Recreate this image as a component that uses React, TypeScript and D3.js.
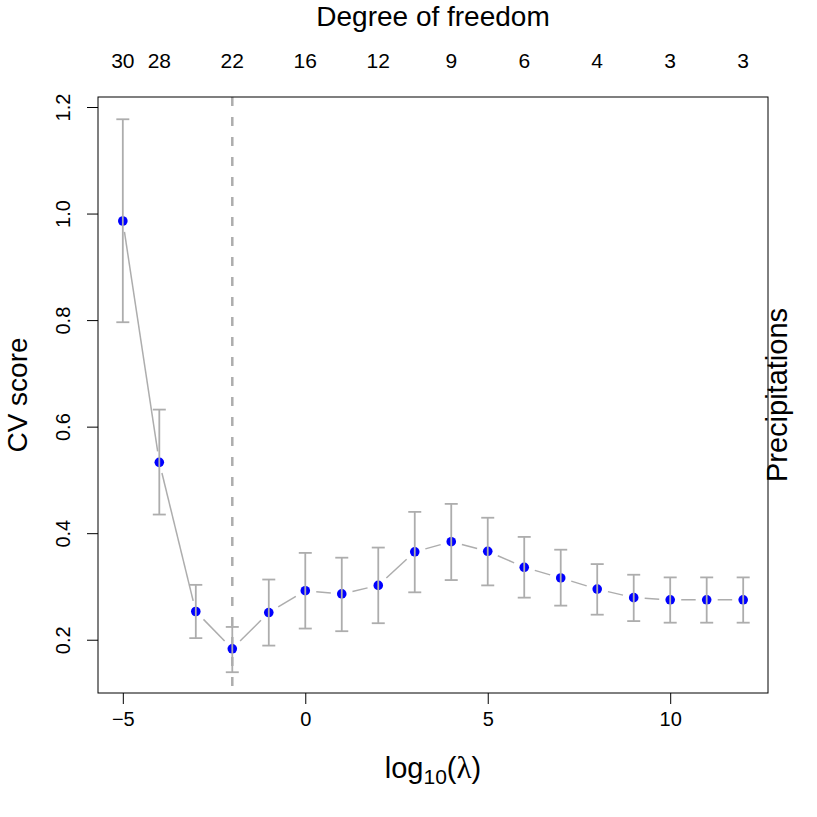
import React, { useRef, useEffect } from 'react';
import * as d3 from 'd3';

// log10(lambda) grid
const logLambda = [-5, -4, -3, -2, -1, 0, 1, 2, 3, 4, 5, 6, 7, 8, 9, 10, 11, 12];
const cvScore = [0.986, 0.533, 0.253, 0.183, 0.251, 0.292, 0.286, 0.302, 0.365, 0.384, 0.366, 0.336, 0.316, 0.295, 0.279, 0.275, 0.275, 0.275];
const cvUpper = [1.177, 0.632, 0.303, 0.224, 0.313, 0.363, 0.354, 0.373, 0.44, 0.455, 0.429, 0.393, 0.369, 0.342, 0.322, 0.317, 0.317, 0.317];
const cvLower = [0.796, 0.435, 0.203, 0.139, 0.189, 0.221, 0.216, 0.231, 0.289, 0.312, 0.302, 0.279, 0.264, 0.247, 0.235, 0.232, 0.232, 0.232];

// top axis: degrees of freedom
const dfPositions = [-5, -4, -2, 0, 2, 4, 6, 8, 10, 12];
const dfLabels = ['30', '28', '22', '16', '12', '9', '6', '4', '3', '3'];

const xTicks = [-5, 0, 5, 10];
const yTicks = [0.2, 0.4, 0.6, 0.8, 1.0, 1.2];
const bestLogLambda = -2;

const FONT = '"Liberation Sans", Arial, Helvetica, sans-serif';
const GREY = '#adadad';

export default function App() {
  const d3Container = useRef<SVGSVGElement | null>(null);

  useEffect(() => {
    if (!d3Container.current) return;
    const svg = d3.select(d3Container.current);
    svg.selectAll('*').remove();

    const left = 98, right = 768, top = 97, bottom = 693;

    const xScale = d3.scaleLinear().domain([-5.68, 12.68]).range([left, right]);
    const yScale = d3.scaleLinear().domain([0.1, 1.2188]).range([bottom, top]);

    const pts = logLambda.map((x, i) => ({ x, y: cvScore[i], lo: cvLower[i], hi: cvUpper[i] }));

    // dashed line at chosen lambda
    svg.append('line')
      .attr('x1', xScale(bestLogLambda)).attr('x2', xScale(bestLogLambda))
      .attr('y1', top).attr('y2', bottom)
      .attr('stroke', GREY).attr('stroke-width', 2.5)
      .attr('stroke-dasharray', '9,11');

    // connecting segments with gaps (type "b")
    const gap = 11;
    pts.slice(1).forEach((p, i) => {
      const a = pts[i];
      const x1 = xScale(a.x), y1 = yScale(a.y), x2 = xScale(p.x), y2 = yScale(p.y);
      const len = Math.hypot(x2 - x1, y2 - y1);
      if (len <= 2 * gap) return;
      const ux = (x2 - x1) / len, uy = (y2 - y1) / len;
      svg.append('line')
        .attr('x1', x1 + ux * gap).attr('y1', y1 + uy * gap)
        .attr('x2', x2 - ux * gap).attr('y2', y2 - uy * gap)
        .attr('stroke', GREY).attr('stroke-width', 1.5);
    });

    // points
    svg.selectAll('circle.pt')
      .data(pts)
      .enter()
      .append('circle')
      .attr('class', 'pt')
      .attr('cx', d => xScale(d.x))
      .attr('cy', d => yScale(d.y))
      .attr('r', 4.8)
      .attr('fill', '#0000ff');

    // error bars
    const bars = svg.append('g').attr('stroke', GREY).attr('stroke-width', 1.8).attr('fill', 'none');
    pts.forEach(d => {
      const cx = xScale(d.x);
      bars.append('line').attr('x1', cx).attr('x2', cx).attr('y1', yScale(d.lo)).attr('y2', yScale(d.hi));
      bars.append('line').attr('x1', cx - 6.5).attr('x2', cx + 6.5).attr('y1', yScale(d.lo)).attr('y2', yScale(d.lo));
      bars.append('line').attr('x1', cx - 6.5).attr('x2', cx + 6.5).attr('y1', yScale(d.hi)).attr('y2', yScale(d.hi));
    });

    // box
    svg.append('rect')
      .attr('x', left).attr('y', top)
      .attr('width', right - left).attr('height', bottom - top)
      .attr('fill', 'none').attr('stroke', '#000').attr('stroke-width', 1);

    // bottom axis
    const xAxis = d3.axisBottom(xScale).tickValues(xTicks).tickSize(11).tickPadding(8)
      .tickFormat(d => (+d < 0 ? '\u2212' + Math.abs(+d) : String(d)));
    const gx = svg.append('g').attr('transform', `translate(0, ${bottom})`).call(xAxis);
    gx.select('.domain').remove();
    gx.selectAll('text').attr('font-size', 20).attr('font-family', FONT).attr('fill', '#000');

    // left axis
    const yAxis = d3.axisLeft(yScale).tickValues(yTicks).tickSize(11).tickFormat(d3.format('.1f'));
    const gy = svg.append('g').attr('transform', `translate(${left}, 0)`).call(yAxis);
    gy.select('.domain').remove();
    gy.selectAll('text')
      .attr('x', null).attr('dy', null)
      .attr('text-anchor', 'middle')
      .attr('font-size', 20).attr('font-family', FONT).attr('fill', '#000')
      .attr('transform', 'translate(-28, 0) rotate(-90)')
      .attr('y', 0);

    // top labels (no ticks)
    svg.append('g')
      .selectAll('text')
      .data(dfPositions)
      .enter()
      .append('text')
      .attr('x', d => xScale(d))
      .attr('y', 68)
      .attr('text-anchor', 'middle')
      .attr('font-size', 21).attr('font-family', FONT)
      .text((d, i) => dfLabels[i]);

    // titles
    svg.append('text')
      .attr('x', (left + right) / 2).attr('y', 26)
      .attr('text-anchor', 'middle')
      .attr('font-size', 28).attr('font-family', FONT)
      .text('Degree of freedom');

    const xt = svg.append('text')
      .attr('x', (left + right) / 2).attr('y', 778)
      .attr('text-anchor', 'middle')
      .attr('font-size', 29).attr('font-family', FONT);
    xt.append('tspan').text('log');
    xt.append('tspan').attr('font-size', 21).attr('dy', 6).text('10');
    xt.append('tspan').attr('dy', -6).text('(');
    xt.append('tspan').attr('font-family', '"Liberation Serif", serif').attr('font-size', 31).text('\u03bb');
    xt.append('tspan').text(')');

    svg.append('text')
      .attr('transform', `translate(26.5, ${(top + bottom) / 2}) rotate(-90)`)
      .attr('text-anchor', 'middle')
      .attr('font-size', 28).attr('font-family', FONT)
      .text('CV score');

    svg.append('text')
      .attr('transform', `translate(787, ${(top + bottom) / 2}) rotate(-90)`)
      .attr('text-anchor', 'middle')
      .attr('font-size', 29).attr('font-family', FONT)
      .text('Precipitations');
  });

  return (
    <svg
      width={817}
      height={817}
      ref={d3Container}
      style={{ display: 'block', position: 'absolute', left: 0, top: 0, background: '#fff' }}
    />
  );
}
